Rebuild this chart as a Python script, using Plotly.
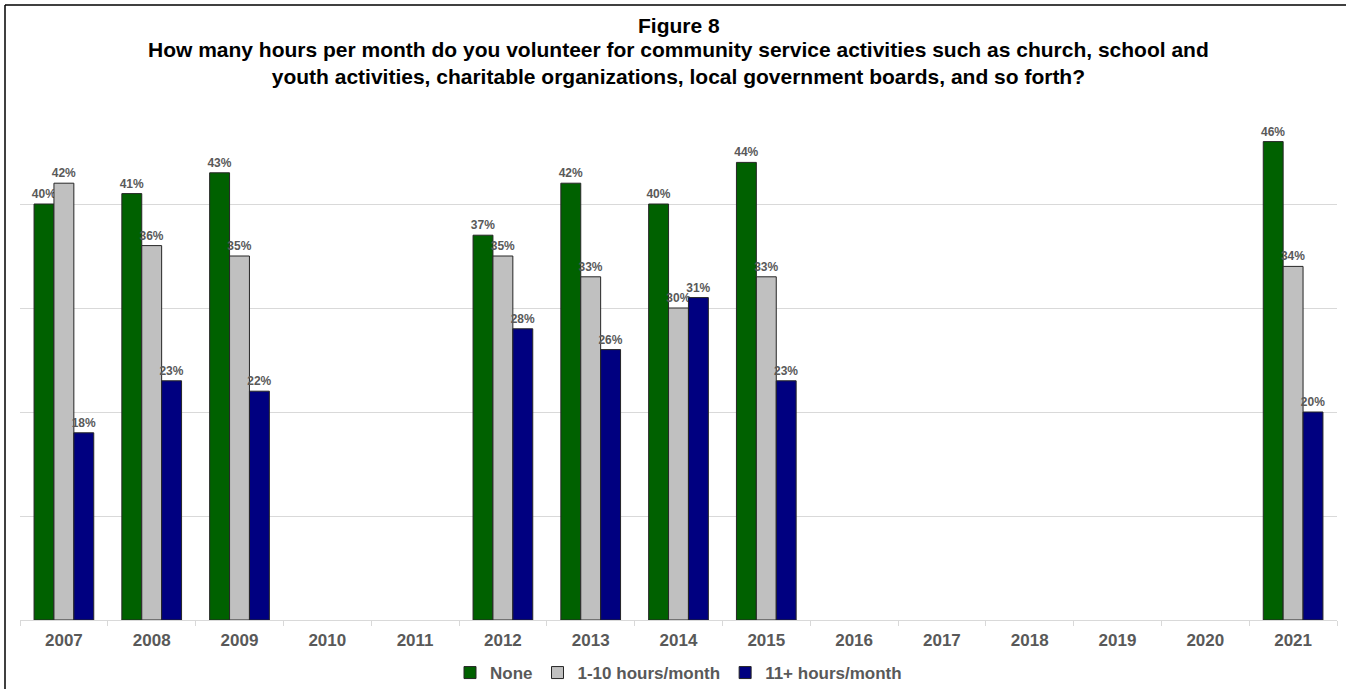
import plotly.graph_objects as go

years = ["2007", "2008", "2009", "2010", "2011", "2012", "2013", "2014",
         "2015", "2016", "2017", "2018", "2019", "2020", "2021"]
none_vals = [40, 41, 43, None, None, 37, 42, 40, 44, None, None, None, None, None, 46]
low_vals = [42, 36, 35, None, None, 35, 33, 30, 33, None, None, None, None, None, 34]
high_vals = [18, 23, 22, None, None, 28, 26, 31, 23, None, None, None, None, None, 20]

series = [
    ("None", none_vals, "#006100"),
    ("1-10 hours/month", low_vals, "#c0c0c0"),
    ("11+ hours/month", high_vals, "#000080"),
]

W, H = 1349, 689
L, R, T, B = 20, 12, 100, 69
FONT = "Liberation Sans, Arial"

fig = go.Figure()
for name, vals, color in series:
    fig.add_trace(go.Bar(
        x=years, y=vals, name=name,
        marker=dict(color=color, line=dict(color="#262626", width=1)),
        text=[f"<b>{v}%</b>" if v is not None else "" for v in vals],
        textposition="outside",
        constraintext="none",
        textfont=dict(family=FONT, size=12, color="#595959"),
        cliponaxis=False,
    ))

def px_x(p):
    return (p - L) / (W - L - R)

def px_y(p):
    return 1 - (p - T) / (H - T - B)

shapes = [
    dict(type="line", xref="paper", yref="paper", x0=px_x(5), x1=px_x(1346),
         y0=px_y(5), y1=px_y(5), line=dict(color="black", width=1.5)),
    dict(type="line", xref="paper", yref="paper", x0=px_x(5), x1=px_x(5),
         y0=px_y(5), y1=px_y(689), line=dict(color="black", width=1.5)),
]

fig.update_layout(
    width=W, height=H,
    margin=dict(l=L, r=R, t=T, b=B, autoexpand=False),
    paper_bgcolor="white", plot_bgcolor="white",
    barmode="group", bargap=0.32, bargroupgap=0,
    font=dict(family=FONT, color="#595959"),
    showlegend=True,
    legend=dict(orientation="h", x=0.5, xanchor="center", y=px_y(673), yanchor="middle",
                font=dict(size=17, color="#595959", family=FONT, weight="bold"),
                itemwidth=30, tracegroupgap=0),
    xaxis=dict(type="category", showline=True, linecolor="#d9d9d9", linewidth=1,
               ticks="outside", tickson="boundaries", ticklen=5, tickcolor="#d9d9d9",
               ticklabelstandoff=5,
               tickfont=dict(size=17, color="#595959", family=FONT, weight="bold"),
               showgrid=False),
    yaxis=dict(range=[0, 50], dtick=10, showgrid=True, gridcolor="#d9d9d9",
               showticklabels=False, zeroline=False, ticks=""),
    shapes=shapes,
    annotations=[
        dict(xref="paper", yref="paper", x=0.5, y=px_y(25), yanchor="middle",
             text="<b>Figure 8</b>", showarrow=False,
             font=dict(size=21, color="black", family=FONT)),
        dict(xref="paper", yref="paper", x=0.5, y=px_y(63), yanchor="middle",
             text="<b>How many hours per month do you volunteer for community service activities such as church, school and<br>"
                  "youth activities, charitable organizations, local government boards, and so forth?</b>",
             showarrow=False, align="center",
             font=dict(size=21, color="black", family=FONT)),
    ],
)

fig.write_html("out.html")
